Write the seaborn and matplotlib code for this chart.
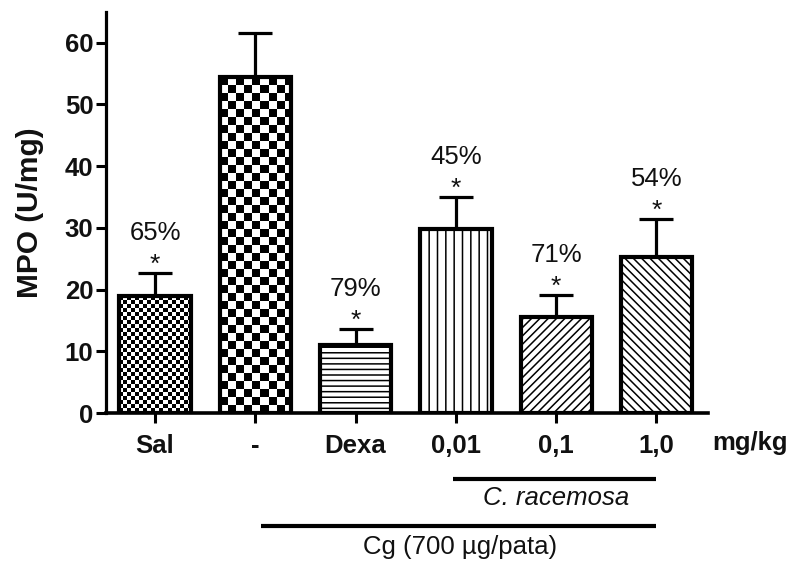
import numpy as np
import matplotlib
matplotlib.use("Agg")
import matplotlib.pyplot as plt
import seaborn as sns

# MPO activity per group (mean and upper SEM)
groups = ["Sal", "-", "Dexa", "0,01", "0,1", "1,0"]
mpo_mean = [18.9, 54.4, 11.0, 29.8, 15.5, 25.2]
mpo_sem = [3.8, 7.2, 2.6, 5.2, 3.7, 6.3]
inhibition = ["65%", None, "79%", "45%", "71%", "54%"]
yticks = [0, 10, 20, 30, 40, 50, 60]

sns.set_theme(style="white")
plt.rcParams["font.family"] = ["Liberation Sans", "DejaVu Sans"]
plt.rcParams["hatch.linewidth"] = 1.1
plt.rcParams["hatch.color"] = "black"

fig = plt.figure(figsize=(7.96, 5.65), dpi=100)
ax = fig.add_axes([0.133, 0.269, 0.756, 0.710])

sns.barplot(x=groups, y=mpo_mean, color="white", edgecolor="black",
            linewidth=3, width=0.71, saturation=1, ax=ax, zorder=3)

bars = ax.patches
hatches = [None, None, "---", "||", "////", "\\\\\\\\"]
checker_px = [4, 8, None, None, None, None]

ax.set_xlim(-0.49, 5.51)
ax.set_ylim(0, 65)
fig.canvas.draw()

for bar, h, cpx in zip(bars, hatches, checker_px):
    if h:
        bar.set_hatch(h)
    if cpx:
        # checkerboard fill clipped to the bar outline
        bar.set_facecolor("none")
        bb = bar.get_window_extent()
        nx = int(np.ceil(bb.width / cpx)) + 1
        ny = int(np.ceil(bb.height / cpx)) + 1
        board = (np.add.outer(np.arange(ny), np.arange(nx)) % 2).astype(float)
        x0, w = bar.get_x(), bar.get_width()
        y0, hgt = bar.get_y(), bar.get_height()
        sx = w / bb.width * cpx * nx
        sy = hgt / bb.height * cpx * ny
        im = ax.imshow(board, cmap="gray", interpolation="nearest",
                       extent=[x0, x0 + sx, y0 + hgt - sy, y0 + hgt],
                       origin="upper", aspect="auto", zorder=2.5)
        im.set_clip_path(bar)

ax.set_xlim(-0.49, 5.51)
ax.set_ylim(0, 65)

centers = [b.get_x() + b.get_width() / 2 for b in bars]
ax.errorbar(centers, mpo_mean, yerr=[np.zeros(len(mpo_sem)), mpo_sem],
            fmt="none", ecolor="black", elinewidth=2.3, capsize=12.5,
            capthick=2.3, zorder=2)

for cx, m, s, lab in zip(centers, mpo_mean, mpo_sem, inhibition):
    if lab is None:
        continue
    ax.annotate("*", (cx, m + s), xytext=(0, -3), textcoords="offset points",
                ha="center", va="bottom", fontsize=19, color="#111111")
    ax.annotate(lab, (cx, m + s), xytext=(0, 20), textcoords="offset points",
                ha="center", va="bottom", fontsize=18.5, color="#111111")

# axes styling
for side in ["top", "right"]:
    ax.spines[side].set_visible(False)
ax.spines["left"].set_linewidth(2.3)
ax.spines["bottom"].set_linewidth(2.6)
ax.spines["left"].set_color("black")
ax.spines["bottom"].set_color("black")
ax.set_yticks(yticks)
ax.tick_params(axis="both", which="major", direction="out", length=7,
               width=2.2, color="black", left=True, bottom=True)
ax.tick_params(axis="y", pad=2, labelsize=18.5)
ax.tick_params(axis="x", pad=8, labelsize=18.5)
for t in ax.get_yticklabels() + ax.get_xticklabels():
    t.set_fontweight("bold")
    t.set_color("#111111")

ax.set_ylabel("MPO (U/mg)", fontsize=21.5, fontweight="bold", color="#111111")
ax.yaxis.set_label_coords(-0.103, 0.5)
ax.set_xlabel("")

xtrans = ax.get_xaxis_transform()
ax.text(5.93, -0.075, "mg/kg", transform=xtrans, ha="center", va="center",
        fontsize=18.5, fontweight="bold", color="#111111", clip_on=False)

# treatment brackets under the axis
ax.plot([centers[3] - 0.03, centers[5]], [-0.165, -0.165], transform=xtrans,
        color="black", lw=3, clip_on=False, solid_capstyle="butt")
ax.text((centers[3] + centers[5]) / 2, -0.213, "C. racemosa", transform=xtrans,
        ha="center", va="center", fontsize=18.5, style="italic", color="#111111")
ax.plot([centers[1] + 0.06, centers[5]], [-0.282, -0.282], transform=xtrans,
        color="black", lw=3, clip_on=False, solid_capstyle="butt")
ax.text((centers[1] + centers[5]) / 2 + 0.04, -0.335, "Cg (700 µg/pata)",
        transform=xtrans, ha="center", va="center", fontsize=18.5,
        color="#111111")

fig.savefig("out.png", dpi=100, facecolor="white")
